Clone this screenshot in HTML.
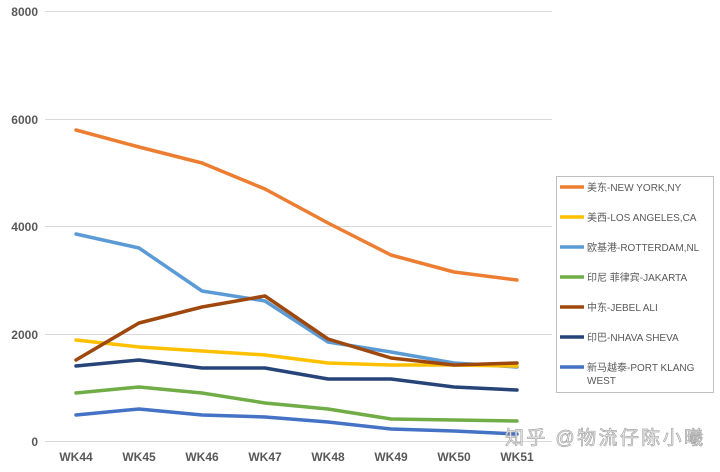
<!DOCTYPE html>
<html><head><meta charset="utf-8"><style>
html,body{margin:0;padding:0;background:#fff;}
svg{display:block;}
</style></head><body>
<svg width="720" height="472" xmlns="http://www.w3.org/2000/svg" font-family="Liberation Sans, Noto Sans CJK SC, sans-serif">
<g stroke="#d9d9d9" stroke-width="1">
<line x1="45" y1="11.5" x2="552" y2="11.5"/>
<line x1="45" y1="119.5" x2="552" y2="119.5"/>
<line x1="45" y1="226.5" x2="552" y2="226.5"/>
<line x1="45" y1="334.5" x2="552" y2="334.5"/>
<line x1="45" y1="441.5" x2="552" y2="441.5"/>
</g>
<g font-size="12" font-weight="bold" fill="#595959" text-anchor="end">
<text x="38" y="16">8000</text><text x="38" y="124">6000</text><text x="38" y="231">4000</text><text x="38" y="339">2000</text><text x="38" y="446">0</text>
</g>
<g font-size="12" font-weight="bold" fill="#595959" text-anchor="middle">
<text x="76" y="461">WK44</text><text x="139" y="461">WK45</text><text x="202" y="461">WK46</text><text x="265" y="461">WK47</text><text x="328" y="461">WK48</text><text x="391" y="461">WK49</text><text x="454" y="461">WK50</text><text x="517" y="461">WK51</text>
</g>
<g fill="none" stroke-width="3.5" stroke-linejoin="round" stroke-linecap="round">
<polyline stroke="#ED7D31" points="76,130 139,147 202,163 265,189 328,223 391,255 454,272 517,280"/>
<polyline stroke="#5B9BD5" points="76,234 139,248 202,291 265,301 328,342 391,352 454,363 517,367"/>
<polyline stroke="#FFC000" points="76,340 139,347 202,351 265,355 328,363 391,365 454,365 517,366"/>
<polyline stroke="#70AD47" points="76,393 139,387 202,393 265,403 328,409 391,419 454,420 517,421"/>
<polyline stroke="#9E480E" points="76,360 139,323 202,307 265,296 328,339 391,358 454,365 517,363"/>
<polyline stroke="#264478" points="76,366 139,360 202,368 265,368 328,379 391,379 454,387 517,390"/>
<polyline stroke="#4472C4" points="76,415 139,409 202,415 265,417 328,422 391,429 454,431 517,434"/>
</g>
<rect x="556.5" y="176.5" width="157" height="216" fill="#fff" stroke="#bfbfbf"/>
<g stroke-width="3.5">
<line x1="560" y1="187" x2="584" y2="187" stroke="#ED7D31"/>
<line x1="560" y1="217" x2="584" y2="217" stroke="#FFC000"/>
<line x1="560" y1="247" x2="584" y2="247" stroke="#5B9BD5"/>
<line x1="560" y1="277" x2="584" y2="277" stroke="#70AD47"/>
<line x1="560" y1="307" x2="584" y2="307" stroke="#9E480E"/>
<line x1="560" y1="337" x2="584" y2="337" stroke="#264478"/>
<line x1="560" y1="367" x2="584" y2="367" stroke="#4472C4"/>
</g>
<g font-size="10" fill="#595959">
<text x="587" y="191">美东-NEW YORK,NY</text>
<text x="587" y="221">美西-LOS ANGELES,CA</text>
<text x="587" y="251">欧基港-ROTTERDAM,NL</text>
<text x="587" y="281">印尼 菲律宾-JAKARTA</text>
<text x="587" y="311">中东-JEBEL ALI</text>
<text x="587" y="341">印巴-NHAVA SHEVA</text>
<text x="587" y="371">新马越泰-PORT KLANG</text>
<text x="587" y="384">WEST</text>
</g>
<text x="505" y="444" font-size="19" fill="#f4f4f4" stroke="#a6a6a6" stroke-width="0.7" textLength="198">知乎 @物流仔陈小曦</text>
</svg>
</body></html>
